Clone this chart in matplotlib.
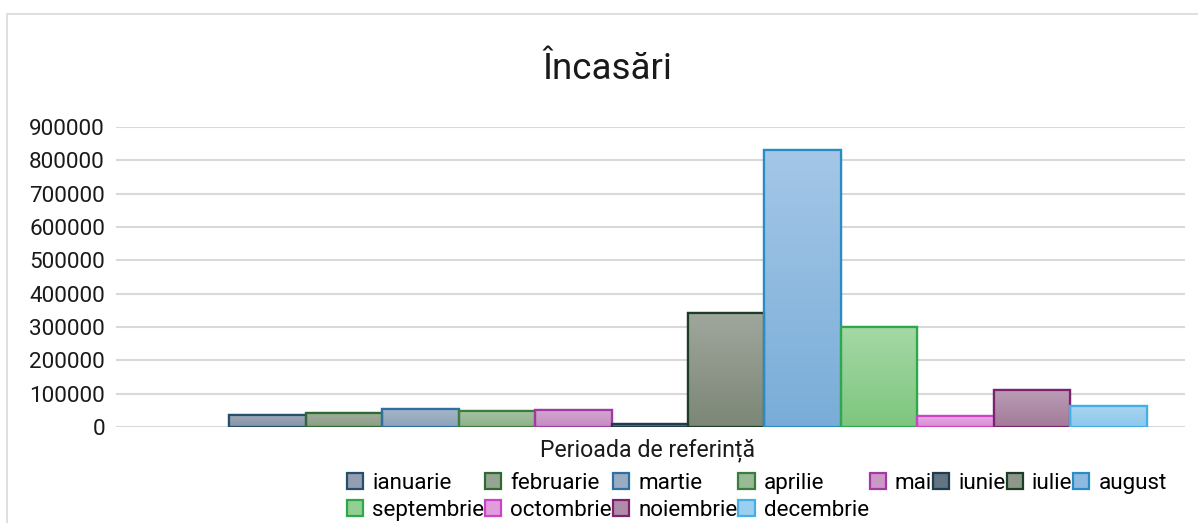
import numpy as np
import matplotlib
matplotlib.use("Agg")
import matplotlib.pyplot as plt
from matplotlib.patches import Rectangle
from matplotlib.colors import LinearSegmentedColormap

# Chart data
months = ["ianuarie", "februarie", "martie", "aprilie", "mai", "iunie",
          "iulie", "august", "septembrie", "octombrie", "noiembrie", "decembrie"]
values = [37000, 42000, 54000, 47000, 51000, 8000,
          341000, 830000, 299000, 32000, 112000, 63000]
y_ticks = [0, 100000, 200000, 300000, 400000, 500000, 600000, 700000, 800000, 900000]

title = "Încasări"
x_label = "Perioada de referință"

# (top colour, bottom colour, edge colour) for each month
top_cols = ["#a0abbb", "#9fae9b", "#a3b5c8", "#a5c2a2", "#d3a6cf", "#6f7f8c",
            "#a0a69c", "#a4c7e7", "#a5d8a5", "#e6aee2", "#bb9db6", "#a8d4f1"]
bot_cols = ["#8592a5", "#8b9c86", "#8ea3b9", "#8fb08c", "#c48cbf", "#56697a",
            "#7b8777", "#79add8", "#7dc67e", "#d98ad5", "#a27b99", "#8dc8ec"]
edge_cols = ["#24506c", "#2f6a32", "#2e70a0", "#3b7d3b", "#a33aa3", "#1f3d4d",
             "#1d3e25", "#2a8cc4", "#2fa84a", "#cc44c4", "#7a2470", "#44aee6"]

plt.rcParams['font.family'] = ['Roboto', 'DejaVu Sans']

W, H = 1198, 523
fig = plt.figure(figsize=(W / 100, H / 100), dpi=100)

# thin chart border (the right and bottom edge run off the picture)
fig.patches.append(Rectangle((7 / W, -0.1), 1.2, 1 - 14 / H + 0.1, transform=fig.transFigure,
                             fill=False, edgecolor="#d9d9d9", linewidth=1.2))

ax = fig.add_axes([116 / W, 1 - 427 / H, (1185 - 116) / W, 300 / H])

bar_w = 76.45 / 1069
start = (229.3 - 116) / 1069
xs = start + bar_w * np.arange(len(months))

for i, m in enumerate(months):
    mid = tuple((np.array(matplotlib.colors.to_rgb(top_cols[i])) +
                 np.array(matplotlib.colors.to_rgb(bot_cols[i]))) / 2)
    bars = ax.bar(xs[i], values[i], width=bar_w, align='edge', color=mid,
                  edgecolor=edge_cols[i], linewidth=1.6, label=m, zorder=3)
    b = bars[0]
    cmap = LinearSegmentedColormap.from_list("g%d" % i, [bot_cols[i], top_cols[i]])
    grad = np.linspace(0, 1, 256).reshape(-1, 1)
    im = ax.imshow(grad, cmap=cmap, aspect='auto', origin='lower',
                   extent=[b.get_x(), b.get_x() + b.get_width(), 0, b.get_height()],
                   zorder=3.5)
    im.set_clip_path(b)
    # redraw the outline over the gradient
    ax.add_patch(Rectangle((b.get_x(), 0), b.get_width(), b.get_height(), fill=False,
                           edgecolor=edge_cols[i], linewidth=1.6, zorder=4))

ax.set_xlim(0, 1)
ax.set_ylim(0, 900000)
ax.set_yticks(y_ticks)
ax.set_yticklabels([str(v) for v in y_ticks])
ax.set_xticks([])
ax.grid(axis='y', color="#d9d9d9", linewidth=1.5, zorder=0)
ax.tick_params(axis='y', length=0, pad=8, labelsize=16.2, labelcolor="#1a1a1a")
for s in ax.spines.values():
    s.set_visible(False)

fig.text(607 / W, 1 - 69 / H, title, ha='center', va='center', fontsize=26.5, color="#1a1a1a")
fig.text(648 / W, 1 - 450 / H, x_label, ha='center', va='center', fontsize=16.7, color="#1a1a1a")

# legend: row one holds ianuarie..august, row two the rest
h, l = ax.get_legend_handles_labels()
order = [0, 8, 1, 9, 2, 10, 3, 11, 4, 5, 6, 7]
fig.legend([h[k] for k in order], [l[k] for k in order], ncol=8,
           loc='upper left', bbox_to_anchor=(347 / W, 1 - 473 / H),
           frameon=False, fontsize=16.1, handlelength=0.72, handleheight=0.72,
           handletextpad=0.4, columnspacing=0.05, labelspacing=0.28,
           borderpad=0, borderaxespad=0)

fig.savefig("out.png", dpi=100)
